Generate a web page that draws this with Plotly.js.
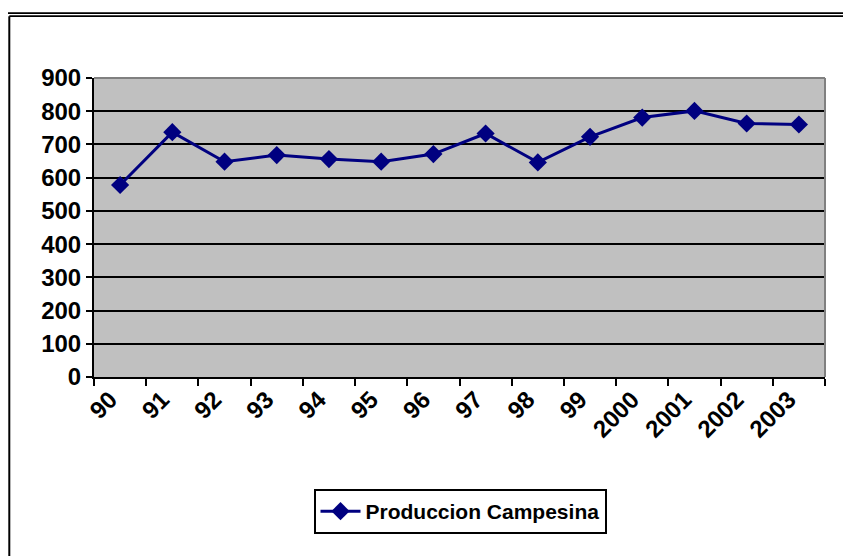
<!DOCTYPE html>
<html>
<head>
<meta charset="utf-8">
<script src="https://cdn.plot.ly/plotly-3.0.1.min.js"></script>
<style>
html,body{margin:0;padding:0;background:#fff;}
#chart{width:843px;height:556px;}
</style>
</head>
<body>
<div id="chart"></div>
<script>
const years = ["90","91","92","93","94","95","96","97","98","99","2000","2001","2002","2003"];
const produccionCampesina = [578, 737, 648, 668, 656, 648, 671, 733, 646, 723, 781, 801, 763, 760];
const seriesName = "Produccion Campesina";

const W = 843, H = 556;
const M = {l: 94, r: 18, t: 78, b: 179};
const pw = W - M.l - M.r, ph = H - M.t - M.b;
const px = x => (x - M.l) / pw;
const py = y => (H - M.b - y) / ph;

const fam = "Liberation Sans, Arial, sans-serif";

const trace = {
  type: "scatter",
  mode: "lines+markers",
  x: years,
  y: produccionCampesina,
  name: seriesName,
  line: {color: "#000080", width: 3},
  marker: {symbol: "diamond", size: 14, color: "#000080", line: {width: 0}},
  showlegend: true
};

const layout = {
  width: W, height: H,
  margin: M,
  paper_bgcolor: "#ffffff",
  plot_bgcolor: "#c0c0c0",
  font: {family: fam, size: 22, color: "#000", weight: "bold"},
  showlegend: true,
  xaxis: {
    type: "category",
    tickson: "boundaries",
    ticks: "outside", ticklen: 7, tickwidth: 2, tickcolor: "#000",
    showline: true, linecolor: "#000", linewidth: 2,
    showgrid: false, zeroline: false,
    tickangle: -45,
    tickfont: {family: fam, size: 24, color: "#000", weight: "bold"},
    ticklabelshift: -10,
    ticklabelstandoff: -3,
    range: [-0.5, 13.5],
    fixedrange: true
  },
  yaxis: {
    range: [0, 900], dtick: 100, tick0: 0,
    ticks: "outside", ticklen: 6, tickwidth: 2, tickcolor: "#000",
    showline: true, linecolor: "#000", linewidth: 2,
    showgrid: true, gridcolor: "#000", gridwidth: 2,
    zeroline: false,
    tickfont: {family: fam, size: 24, color: "#000", weight: "bold"},
    ticklabelstandoff: 0,
    fixedrange: true
  },
  legend: {
    orientation: "h",
    x: px(460), xanchor: "center",
    y: py(489), yanchor: "top",
    bgcolor: "#ffffff",
    bordercolor: "#000", borderwidth: 2,
    font: {family: fam, size: 21, color: "#000", weight: "bold"},
    itemwidth: 40
  },
  shapes: [
    {type: "line", xref: "paper", yref: "paper", x0: 0, x1: 1, y0: 1, y1: 1, line: {color: "#808080", width: 2}, layer: "above"},
    {type: "line", xref: "paper", yref: "paper", x0: 1, x1: 1, y0: 0, y1: 1, line: {color: "#808080", width: 2}, layer: "above"},
    {type: "line", xref: "paper", yref: "paper", x0: px(8), x1: px(845), y0: py(13.2), y1: py(13.2), line: {color: "#000", width: 1.8}},
    {type: "line", xref: "paper", yref: "paper", x0: px(9.3), x1: px(845), y0: py(16.2), y1: py(16.2), line: {color: "#000", width: 1.8}},
    {type: "line", xref: "paper", yref: "paper", x0: px(9.3), x1: px(9.3), y0: py(16.2), y1: py(560), line: {color: "#000", width: 2}}
  ]
};

Plotly.newPlot("chart", [trace], layout, {displayModeBar: false, staticPlot: true});
</script>
</body>
</html>
